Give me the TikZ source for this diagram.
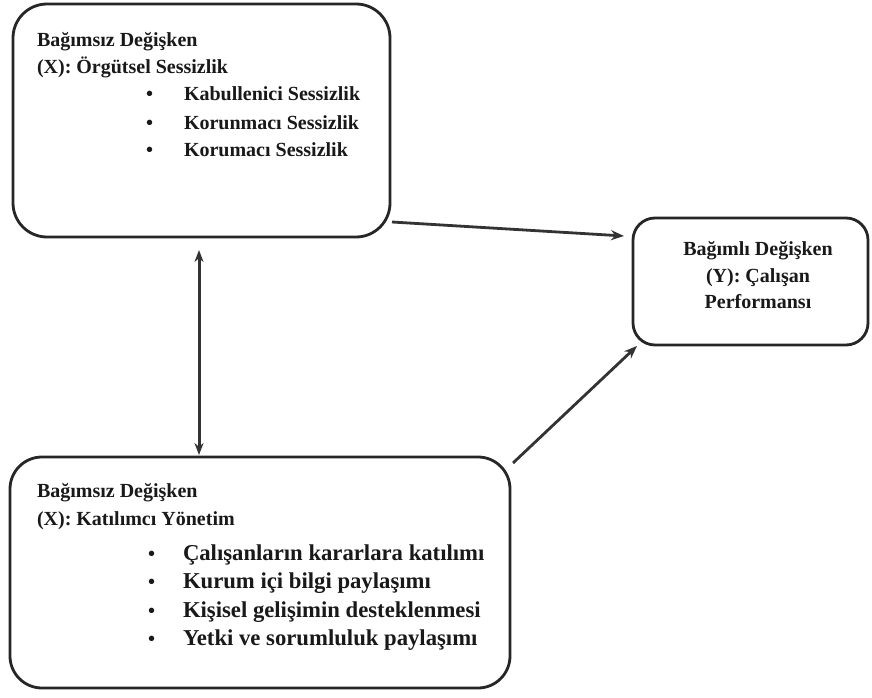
\documentclass[tikz,border=0pt]{standalone}
\usepackage{fontspec}
\setmainfont{Liberation Serif}
\usetikzlibrary{arrows.meta}
\begin{document}
\begin{tikzpicture}[x=1pt,y=-1pt,
  box/.style={draw=black!85,line width=2.8pt,inner sep=0pt,outer sep=0pt},
  txt/.style={inner sep=0pt,outer sep=0pt,anchor=base west,font=\fontsize{20}{24}\selectfont\bfseries,text=black!90},
  bigtxt/.style={txt,font=\fontsize{22.7}{27}\selectfont\bfseries},
  ctxt/.style={txt,anchor=base},
  conn/.style={draw=black!80,line width=2.8pt,arrows={-Stealth[length=13pt,width=10pt]}},
  dconn/.style={draw=black!80,line width=3pt,>={Stealth[length=12pt,width=9pt]},<->}]
\useasboundingbox[fill=white] (0,0) rectangle (872,698);
% boxes
\node[box,rounded corners=34pt,minimum width=377pt,minimum height=233pt] (top) at (201.5,120.5) {};
\node[box,rounded corners=22pt,minimum width=235pt,minimum height=127pt] (right) at (750.5,281.5) {};
\node[box,rounded corners=32pt,minimum width=500pt,minimum height=231pt] (bottom) at (260,572.5) {};
% top box text
\node[txt] (t1) at (37,47) {Bağımsız Değişken};
\node[txt] (t2) at (37,74) {(X): Örgütsel Sessizlik};
\node[txt] (tb1) at (146,101) {•};
\node[txt] (tb2) at (146,129) {•};
\node[txt] (tb3) at (146,157) {•};
\node[txt] (ti1) at (184,101) {Kabullenici Sessizlik};
\node[txt] (ti2) at (184,129) {Korunmacı Sessizlik};
\node[txt] (ti3) at (184,157) {Korumacı Sessizlik};
% right box text
\node[ctxt] (r1) at (758,255) {Bağımlı Değişken};
\node[ctxt] (r2) at (758,282) {(Y): Çalışan};
\node[ctxt] (r3) at (758,308) {Performansı};
% bottom box text
\node[txt] (b1) at (37,497) {Bağımsız Değişken};
\node[txt] (b2) at (37,525) {(X): Katılımcı Yönetim};
\node[txt] (bb1) at (148,560) {•};
\node[txt] (bb2) at (148,588) {•};
\node[txt] (bb3) at (148,617) {•};
\node[txt] (bb4) at (148,645) {•};
\node[bigtxt] (bi1) at (183,560) {Çalışanların kararlara katılımı};
\node[bigtxt] (bi2) at (183,588) {Kurum içi bilgi paylaşımı};
\node[bigtxt] (bi3) at (183,617) {Kişisel gelişimin desteklenmesi};
\node[bigtxt] (bi4) at (183,645) {Yetki ve sorumluluk paylaşımı};
% connectors
\draw[conn] ([shift={(2,-15)}]top.south east) -- ([shift={(-9,18)}]right.north west);
\draw[conn] ([shift={(3,6)}]bottom.north east) -- ([shift={(4,1)}]right.south west);
\draw[dconn] ([shift={(-2.5,13)}]top.south) -- ([shift={(-61,-2)}]bottom.north);
\end{tikzpicture}
\end{document}
